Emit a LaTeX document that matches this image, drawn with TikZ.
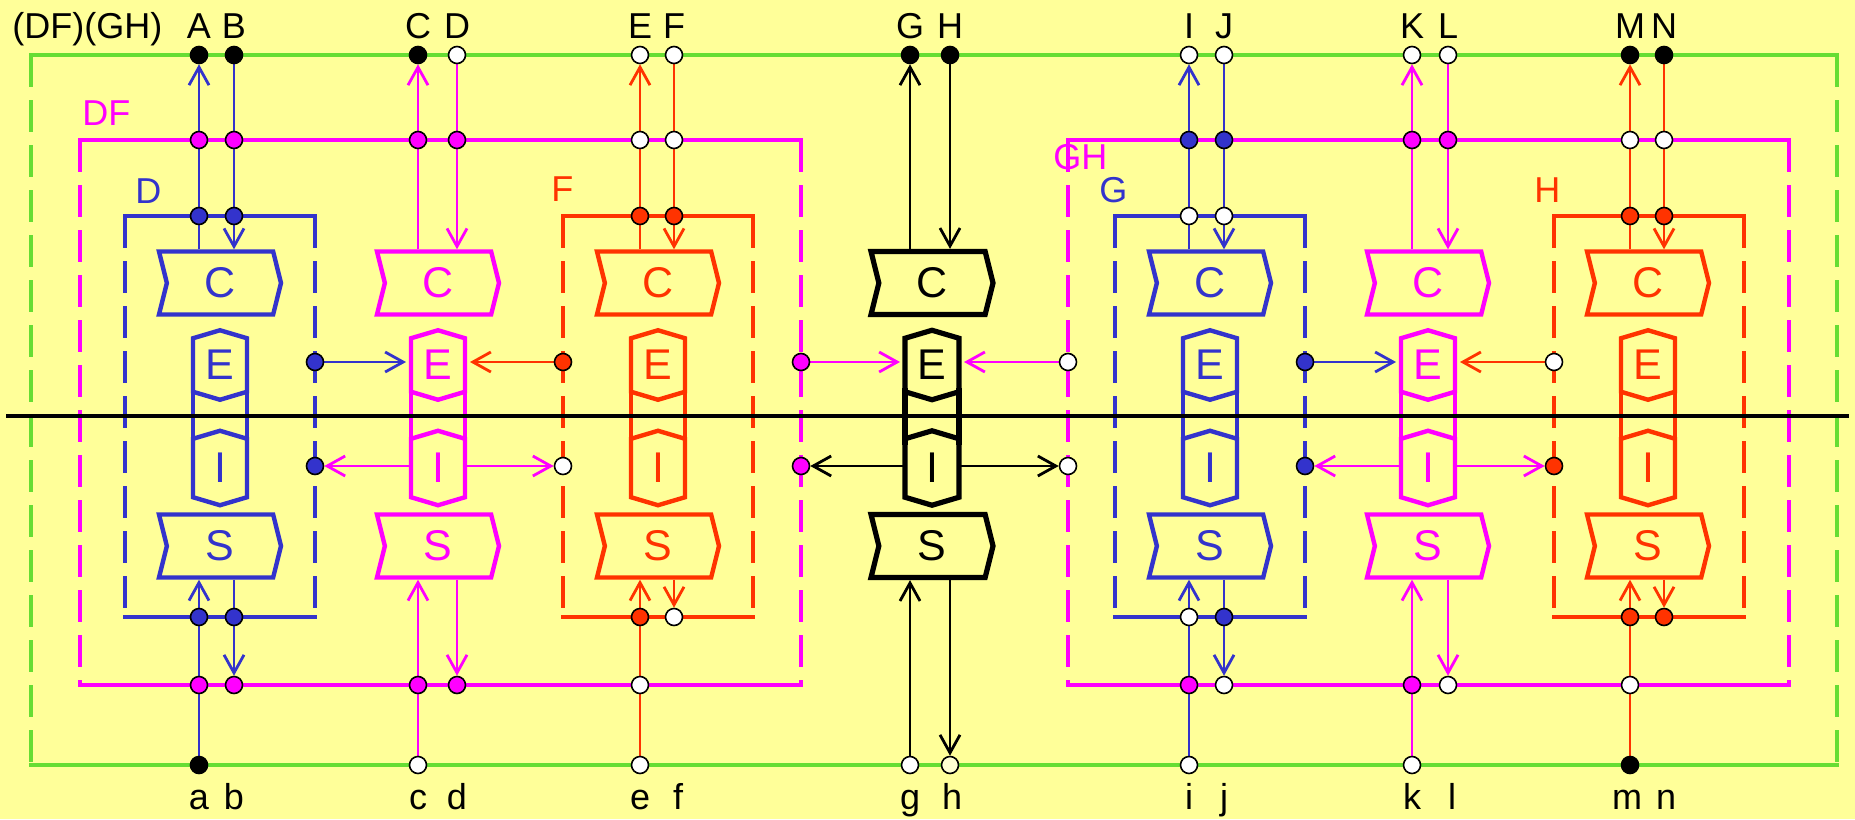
\documentclass[tikz,border=0pt]{standalone}
\usepackage{fontspec}
\setmainfont{Liberation Sans}
\usetikzlibrary{shapes.symbols,arrows.meta}
\definecolor{bgy}{RGB}{255,255,153}
\definecolor{gr}{RGB}{102,221,51}
\definecolor{bl}{RGB}{51,51,204}
\definecolor{mg}{RGB}{255,0,255}
\definecolor{org}{RGB}{255,51,0}
\definecolor{pale}{RGB}{255,255,210}
\pgfdeclarelayer{bgl}
\pgfsetlayers{bgl,main}
\tikzset{
  lab/.style={font=\fontsize{18}{21}\selectfont, anchor=base, inner sep=0pt},
  cbox/.style={signal, signal to=east, signal from=west, signal pointer angle=152,
    minimum width=61pt, minimum height=31.5pt, inner sep=0pt, line width=2.2pt,
    font=\fontsize{21.5}{25}\selectfont},
  ebox/.style={signal, signal to=north and south, signal pointer angle=147,
    minimum width=27pt, minimum height=31pt, inner sep=0pt, outer sep=0pt, line width=2.2pt,
    font=\fontsize{21.5}{25}\selectfont},
  conn/.style={line width=1.4pt, -{Straight Barb[length=9pt,width=10pt]}},
  sconn/.style={conn, shorten >=2.5pt},
  dot/.style={circle, draw=black, line width=0.8pt, minimum size=8.5pt, inner sep=0pt},
  dotk/.style={dot, fill=black},
  dotw/.style={dot, fill=white},
  dotb/.style={dot, fill=bl},
  dotm/.style={dot, fill=mg},
  doto/.style={dot, fill=org},
  dotp/.style={dot, fill=pale},
  sidedash/.style={dash pattern=on 16pt off 6.5pt},
}
\newcommand\myframe[5]{%
  \draw[#5, line cap=rect] (#1,#2) -- (#3,#2) (#1,#4) -- (#3,#4);
  \draw[#5, sidedash] (#1,#2) -- (#1,#4) (#3,#2) -- (#3,#4);
}
\newcommand\modul[4]{%
  \node[cbox, draw=#3, text=#3, #4] (C#1) at (#2,283) {C};
  \node[ebox, draw=#3, text=#3, #4] (E#1) at (#2,365) {E};
  \node[ebox, draw=#3, text=#3, #4] (I#1) at (#2,468) {I};
  \node[cbox, draw=#3, text=#3, #4] (S#1) at (#2,546) {S};
  \draw[#3, line width=2.2pt, #4] ([yshift=-11.5pt]E#1.west) -- ([yshift=11.5pt]I#1.west)
    ([yshift=-11.5pt]E#1.east) -- ([yshift=11.5pt]I#1.east);
}
\begin{document}
\begin{tikzpicture}[x=0.5pt,y=-0.5pt]
\begin{pgfonlayer}{bgl}
\fill[bgy] (0,0) rectangle (1855,819);
\end{pgfonlayer}
\useasboundingbox (0,0) rectangle (1855,819);

% frames
\myframe{31}{55}{1837}{765}{gr, line width=2pt}
\myframe{80}{140}{801}{685}{mg, line width=2pt}
\myframe{1068}{140}{1789}{685}{mg, line width=2pt}
\myframe{125}{216}{315}{617}{bl, line width=2pt}
\myframe{563}{216}{753}{617}{org, line width=2pt}
\myframe{1115}{216}{1305}{617}{bl, line width=2pt}
\myframe{1554}{216}{1744}{617}{org, line width=2pt}

% modules
\modul{D}{220}{bl}{}
\modul{P}{438}{mg}{}
\modul{F}{658}{org}{}
\modul{K}{932}{black}{line width=2.6pt}
\modul{G}{1210}{bl}{}
\modul{Q}{1428}{mg}{}
\modul{H}{1648}{org}{}

% dots: green top
\node[dotk] (tA) at (199,55) {};
\node[dotk] (tB) at (234,55) {};
\node[dotk] (tC) at (418,55) {};
\node[dotw] (tD) at (457,55) {};
\node[dotw] (tE) at (640,55) {};
\node[dotw] (tF) at (674,55) {};
\node[dotk] (tG) at (910,55) {};
\node[dotk] (tH) at (950,55) {};
\node[dotw] (tI) at (1189,55) {};
\node[dotw] (tJ) at (1224,55) {};
\node[dotw] (tK) at (1412,55) {};
\node[dotw] (tL) at (1448,55) {};
\node[dotk] (tM) at (1630,55) {};
\node[dotk] (tN) at (1664,55) {};
% magenta top
\node[dotm] (mA) at (199,140) {};
\node[dotm] (mB) at (234,140) {};
\node[dotm] (mC) at (418,140) {};
\node[dotm] (mD) at (457,140) {};
\node[dotw] (mE) at (640,140) {};
\node[dotw] (mF) at (674,140) {};
\node[dotb] (mI) at (1189,140) {};
\node[dotb] (mJ) at (1224,140) {};
\node[dotm] (mK) at (1412,140) {};
\node[dotm] (mL) at (1448,140) {};
\node[dotw] (mM) at (1630,140) {};
\node[dotw] (mN) at (1664,140) {};
% module top
\node[dotb] (dA) at (199,216) {};
\node[dotb] (dB) at (234,216) {};
\node[doto] (dE) at (640,216) {};
\node[doto] (dF) at (674,216) {};
\node[dotw] (dI) at (1189,216) {};
\node[dotw] (dJ) at (1224,216) {};
\node[doto] (dM) at (1630,216) {};
\node[doto] (dN) at (1664,216) {};
% module bottom
\node[dotb] (ua) at (199,617) {};
\node[dotb] (ub) at (234,617) {};
\node[doto] (ue) at (640,617) {};
\node[dotw] (uf) at (674,617) {};
\node[dotw] (ui) at (1189,617) {};
\node[dotb] (uj) at (1224,617) {};
\node[doto] (um) at (1630,617) {};
\node[doto] (un) at (1664,617) {};
% magenta bottom
\node[dotm] (na) at (199,685) {};
\node[dotm] (nb) at (234,685) {};
\node[dotm] (nc) at (418,685) {};
\node[dotm] (nd) at (457,685) {};
\node[dotw] (ne) at (640,685) {};
\node[dotm] (ni) at (1189,685) {};
\node[dotw] (nj) at (1224,685) {};
\node[dotm] (nk) at (1412,685) {};
\node[dotw] (nl) at (1448,685) {};
\node[dotw] (nm) at (1630,685) {};
% green bottom
\node[dotk] (ga) at (199,765) {};
\node[dotw] (gc) at (418,765) {};
\node[dotw] (ge) at (640,765) {};
\node[dotw] (gg) at (910,765) {};
\node[dotp] (gh) at (950,765) {};
\node[dotw] (gi) at (1189,765) {};
\node[dotw] (gk) at (1412,765) {};
\node[dotk] (gm) at (1630,765) {};
% side dots
\node[dotb] (sD1) at (315,362) {};
\node[dotb] (sD2) at (315,466) {};
\node[doto] (sF1) at (563,362) {};
\node[dotw] (sF2) at (563,466) {};
\node[dotm] (sX1) at (801,362) {};
\node[dotm] (sX2) at (801,466) {};
\node[dotw] (sY1) at (1068,362) {};
\node[dotw] (sY2) at (1068,466) {};
\node[dotb] (sG1) at (1305,362) {};
\node[dotb] (sG2) at (1305,466) {};
\node[dotw] (sH1) at (1554,362) {};
\node[doto] (sH2) at (1554,466) {};

% connectors
\begin{pgfonlayer}{bgl}
% D module
\draw[conn,bl] (CD.north -| tA) -- (tA);
\draw[conn,bl] (tB) -- (CD.north -| tB);
\draw[conn,bl] (ga) -- (SD.south -| ga);
\draw[conn,bl] (SD.south -| nb) -- (nb);
% magenta 1
\draw[conn,mg] (CP.north -| tC) -- (tC);
\draw[conn,mg] (tD) -- (CP.north -| tD);
\draw[conn,mg] (gc) -- (SP.south -| gc);
\draw[conn,mg] (SP.south -| nd) -- (nd);
% F module
\draw[conn,org] (CF.north -| tE) -- (tE);
\draw[conn,org] (tF) -- (CF.north -| tF);
\draw[conn,org] (ge) -- (SF.south -| ge);
\draw[conn,org] (SF.south -| uf) -- (uf);
% black module
\draw[conn,black] (CK.north -| tG) -- (tG);
\draw[conn,black] (tH) -- (CK.north -| tH);
\draw[conn,black] (gg) -- (SK.south -| gg);
\draw[conn,black] (SK.south -| gh) -- (gh);
% G module
\draw[conn,bl] (CG.north -| tI) -- (tI);
\draw[conn,bl] (tJ) -- (CG.north -| tJ);
\draw[conn,bl] (gi) -- (SG.south -| gi);
\draw[conn,bl] (SG.south -| nj) -- (nj);
% magenta 2
\draw[conn,mg] (CQ.north -| tK) -- (tK);
\draw[conn,mg] (tL) -- (CQ.north -| tL);
\draw[conn,mg] (gk) -- (SQ.south -| gk);
\draw[conn,mg] (SQ.south -| nl) -- (nl);
% H module
\draw[conn,org] (CH.north -| tM) -- (tM);
\draw[conn,org] (tN) -- (CH.north -| tN);
\draw[conn,org] (gm) -- (SH.south -| gm);
\draw[conn,org] (SH.south -| un) -- (un);
% side arrows
\draw[sconn,bl] (sD1) -- (sD1 -| EP.west);
\draw[conn,mg] (IP.west |- sD2) -- (sD2);
\draw[sconn,org] (sF1) -- (sF1 -| EP.east);
\draw[conn,mg] (IP.east |- sF2) -- (sF2);
\draw[sconn,mg] (sX1) -- (sX1 -| EK.west);
\draw[conn,black] (IK.west |- sX2) -- (sX2);
\draw[sconn,mg] (sY1) -- (sY1 -| EK.east);
\draw[conn,black] (IK.east |- sY2) -- (sY2);
\draw[sconn,bl] (sG1) -- (sG1 -| EQ.west);
\draw[conn,mg] (IQ.west |- sG2) -- (sG2);
\draw[sconn,org] (sH1) -- (sH1 -| EQ.east);
\draw[conn,mg] (IQ.east |- sH2) -- (sH2);
\end{pgfonlayer}

% main horizontal line
\coordinate (hl) at (6,416);
\coordinate (hr) at (1849,416);
\draw[black, line width=2pt] (hl) -- (hr);

% labels
\node[lab, anchor=base west] (title) at (12,38) {(DF)(GH)};
\node[lab, anchor=base west, text=mg] (lDF) at (82,125) {DF};
\node[lab, anchor=base west, text=bl] (lD) at (135,203) {D};
\node[lab, anchor=base west, text=org] (lF) at (551,201) {F};
\node[lab, anchor=base west, text=mg] (lGH) at (1053,169) {GH};
\node[lab, anchor=base west, text=bl] (lG) at (1099,202) {G};
\node[lab, anchor=base west, text=org] (lH) at (1534,202) {H};
\foreach \n/\x in {A/199,B/234,C/418,D/457,E/640,F/674,G/910,H/950,I/1189,J/1224,K/1412,L/1448,M/1630,N/1664}
  \node[lab] (T\n) at (\x,38) {\n};
\foreach \n/\x in {a/199,b/234,c/418,d/457,e/640,f/678,g/910,h/952,i/1189,j/1224,k/1412,l/1452,m/1627,n/1666}
  \node[lab] (B\n) at (\x,809) {\n};
\end{tikzpicture}
\end{document}
